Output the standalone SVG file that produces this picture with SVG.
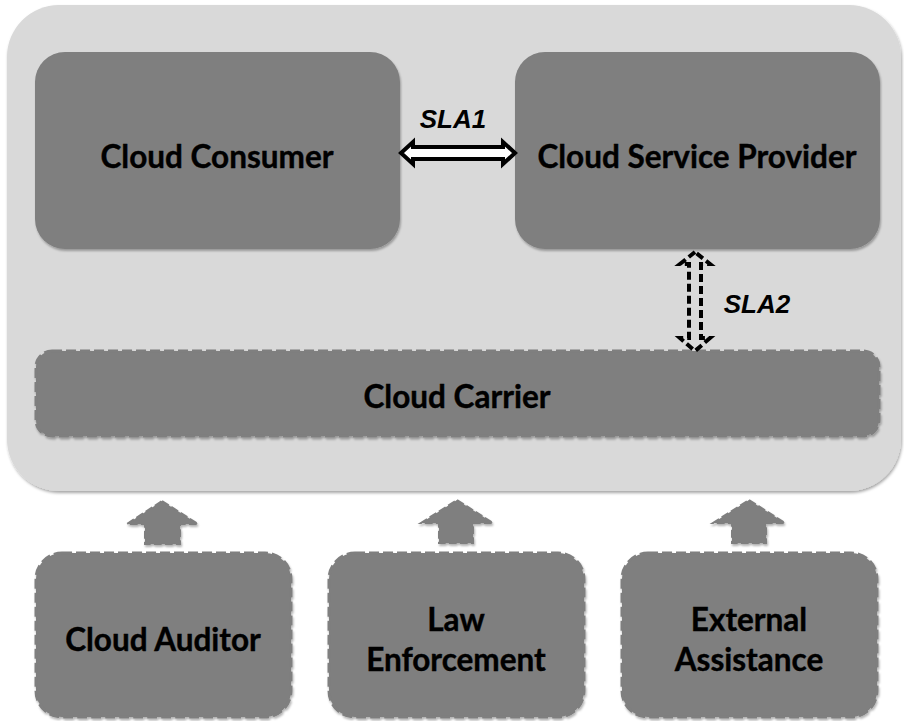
<svg xmlns="http://www.w3.org/2000/svg" width="904" height="721" viewBox="0 0 904 721">
  <defs>
    <filter id="shadow" x="-5%" y="-5%" width="110%" height="115%">
      <feDropShadow dx="1" dy="2" stdDeviation="1.5" flood-color="#000" flood-opacity="0.35"/>
    </filter>
    <filter id="soft" x="-5%" y="-5%" width="110%" height="115%">
      <feDropShadow dx="1" dy="2" stdDeviation="1.2" flood-color="#000" flood-opacity="0.3"/>
    </filter>
  </defs>
  <style>
    .outer { fill: #d9d9d9; }
    .solid { fill: #7f7f7f; }
    .dashed { fill: #7f7f7f; stroke: #7f7f7f; stroke-width: 3; stroke-dasharray: 10 4; }
    .label { font-family: Lato, "Liberation Sans", sans-serif; font-weight: bold; font-size: 31.5px; fill: #000; stroke: #000; stroke-width: 0.4; text-anchor: middle; }
    .sla { font-family: "Liberation Sans", Arial, sans-serif; font-weight: bold; font-style: italic; font-size: 26px; fill: #000; text-anchor: middle; }
    .hollow { fill: #ffffff; stroke: #000; stroke-width: 4; stroke-linejoin: miter; }
    .hollow-dash { fill: none; stroke: #000; stroke-width: 4; stroke-dasharray: 8 4; }
    .up { fill: #7f7f7f; stroke: #7f7f7f; stroke-width: 2; stroke-dasharray: 8 3; }
  </style>

  <rect width="904" height="721" fill="#ffffff"/>

  <!-- cloud ecosystem container -->
  <g id="ecosystem">
    <rect class="outer" x="7" y="5" width="894" height="486" rx="52" ry="52" filter="url(#shadow)"/>
  </g>

  <g id="cloud-consumer">
    <rect class="solid" x="35" y="52" width="365" height="197" rx="30" ry="30" filter="url(#soft)"/>
    <text class="label" x="217" y="168">Cloud Consumer</text>
  </g>

  <g id="cloud-service-provider">
    <rect class="solid" x="515" y="52" width="365" height="197" rx="30" ry="30" filter="url(#soft)"/>
    <text class="label" x="697" y="168">Cloud Service Provider</text>
  </g>

  <g id="cloud-carrier">
    <rect class="dashed" x="36" y="351" width="843" height="85" rx="16" ry="16" filter="url(#soft)"/>
    <text class="label" x="457" y="408">Cloud Carrier</text>
  </g>

  <g id="cloud-auditor">
    <rect class="dashed" x="36" y="553" width="255" height="164" rx="26" ry="26" filter="url(#soft)"/>
    <text class="label" x="163" y="651">Cloud Auditor</text>
  </g>

  <g id="law-enforcement">
    <rect class="dashed" x="329" y="553" width="255" height="164" rx="26" ry="26" filter="url(#soft)"/>
    <text class="label" x="456" y="631">Law</text>
    <text class="label" x="456" y="671">Enforcement</text>
  </g>

  <g id="external-assistance">
    <rect class="dashed" x="622" y="553" width="255" height="164" rx="26" ry="26" filter="url(#soft)"/>
    <text class="label" x="749" y="631">External</text>
    <text class="label" x="749" y="671">Assistance</text>
  </g>

  <g id="connectors">
    <!-- SLA1: solid double-headed block arrow -->
    <path class="hollow" d="M401,153 L413,142 L413,147 L503,147 L503,142 L515,153 L503,164 L503,159 L413,159 L413,164 Z"/>
    <text class="sla" x="453" y="128">SLA1</text>

    <!-- SLA2: dashed double-headed block arrow -->
    <path class="hollow-dash" d="M695,252 L680,264 L689,264 L689,338 L680,338 L695,351 L710,338 L701,338 L701,264 L710,264 Z"/>
    <text class="sla" x="757" y="313">SLA2</text>

    <!-- upward block arrows into the ecosystem -->
    <path class="up" d="M162,501 L198,524 L180,524 L180,544 L145,544 L145,524 L127,524 Z" filter="url(#soft)"/>
    <path class="up" d="M457,500 L493,523 L473,523 L473,543 L439,543 L439,523 L421,523 Z" filter="url(#soft)"/>
    <path class="up" d="M749,500 L785,523 L766,523 L766,543 L732,543 L732,523 L713,523 Z" filter="url(#soft)"/>
  </g>
</svg>
